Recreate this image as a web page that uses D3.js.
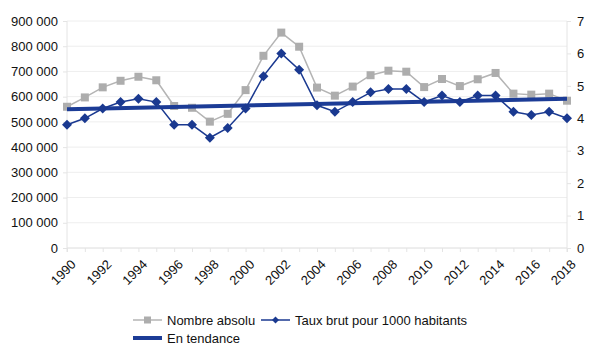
<!DOCTYPE html>
<html>
<head>
<meta charset="utf-8">
<script src="https://cdn.jsdelivr.net/npm/d3@7"></script>
<style>
  body { margin: 0; background: #fff; }
  text { font-family: "Liberation Sans", Arial, sans-serif; }
</style>
</head>
<body>
<svg id="canvas"></svg>
<script>
let svg = d3.select("#canvas");

svg.attr('width', 600)
    .attr('height', 353)

// data
let years = d3.range(1990, 2019);
let nombreAbsolu = [560000, 597000, 637000, 663000, 679000, 665000, 563000, 556000, 501000, 532000,
  626000, 762000, 854000, 798000, 636000, 604000, 640000, 685000, 703000, 699000,
  638000, 670000, 642000, 669000, 694000, 612000, 608000, 612000, 584000];
let tauxBrut = [3.8, 4.0, 4.3, 4.5, 4.6, 4.5, 3.8, 3.8, 3.4, 3.7,
  4.3, 5.3, 6.0, 5.5, 4.4, 4.2, 4.5, 4.8, 4.9, 4.9,
  4.5, 4.7, 4.5, 4.7, 4.7, 4.2, 4.1, 4.2, 4.0];
let leftTicks = d3.range(0, 900001, 100000);
let rightTicks = d3.range(0, 8);
let yearLabels = years.filter(y => y % 2 === 0);

let plotLeft = 67, plotRight = 567, plotTop = 21, plotBottom = 248;

let x = d3.scaleLinear().domain([1990, 2018]).range([plotLeft, plotRight]);
let yL = d3.scaleLinear().domain([0, 900000]).range([plotBottom, plotTop]);
let yR = d3.scaleLinear().domain([0, 7]).range([plotBottom, plotTop]);

let fmt = d => d3.format(',')(d).replace(/,/g, ' ');

// grid
svg.append('g').selectAll('line')
  .data(leftTicks)
  .join('line')
  .attr('x1', plotLeft).attr('x2', plotRight)
  .attr('y1', d => yL(d)).attr('y2', d => yL(d))
  .attr('stroke', '#eeeeee');

// borders
svg.append('line').attr('x1', plotLeft).attr('x2', plotLeft).attr('y1', plotTop).attr('y2', plotBottom + 4).attr('stroke', '#e4e4e4');
svg.append('line').attr('x1', plotRight).attr('x2', plotRight).attr('y1', plotTop).attr('y2', plotBottom + 4).attr('stroke', '#e4e4e4');
svg.append('line').attr('x1', plotLeft).attr('x2', plotRight).attr('y1', plotBottom).attr('y2', plotBottom).attr('stroke', '#e4e4e4');

// axes
let gl = svg.append('g').attr('transform', `translate(${plotLeft},0)`)
  .call(d3.axisLeft(yL).tickValues(leftTicks).tickFormat(fmt).tickSize(4).tickPadding(5));
let gr = svg.append('g').attr('transform', `translate(${plotRight},0)`)
  .call(d3.axisRight(yR).tickValues(rightTicks).tickFormat(d3.format('d')).tickSize(4).tickPadding(6));
let gx = svg.append('g').attr('transform', `translate(0,${plotBottom})`)
  .call(d3.axisBottom(x).tickValues(years).tickFormat(d => yearLabels.includes(d) ? d : '').tickSize(4));

[gl, gr, gx].forEach(g => {
  g.select('.domain').remove();
  g.selectAll('.tick line').attr('stroke', '#e4e4e4');
  g.selectAll('text').attr('font-size', 13).attr('fill', '#111');
});

gx.selectAll('text')
  .attr('text-anchor', 'end')
  .attr('dy', '0.35em')
  .attr('transform', 'translate(6,14) rotate(-45)')
  .attr('y', 0);

// trend line: least squares on taux brut
let mx = d3.mean(years), my = d3.mean(tauxBrut);
let slope = d3.sum(years, (d, i) => (d - mx) * (tauxBrut[i] - my)) / d3.sum(years, d => (d - mx) ** 2);
let trend = [1990, 2018].map(d => [d, my + slope * (d - mx)]);

let grayColor = '#adadad', blueColor = '#1a3990', trendColor = '#1c3c96';

// gray series
svg.append('path')
  .datum(nombreAbsolu)
  .attr('fill', 'none')
  .attr('stroke', '#b4b4b4')
  .attr('stroke-width', 1.5)
  .attr('d', d3.line().x((d, i) => x(years[i])).y(d => yL(d)));

svg.append('g').selectAll('rect')
  .data(nombreAbsolu)
  .join('rect')
  .attr('x', (d, i) => x(years[i]) - 4)
  .attr('y', d => yL(d) - 4)
  .attr('width', 8)
  .attr('height', 8)
  .attr('fill', grayColor);

// trend
svg.append('path')
  .datum(trend)
  .attr('fill', 'none')
  .attr('stroke', trendColor)
  .attr('stroke-width', 4)
  .attr('d', d3.line().x(d => x(d[0])).y(d => yR(d[1])));

// blue series
svg.append('path')
  .datum(tauxBrut)
  .attr('fill', 'none')
  .attr('stroke', blueColor)
  .attr('stroke-width', 1.5)
  .attr('d', d3.line().x((d, i) => x(years[i])).y(d => yR(d)));

svg.append('g').selectAll('path')
  .data(tauxBrut)
  .join('path')
  .attr('d', 'M0,-5L5,0L0,5L-5,0Z')
  .attr('transform', (d, i) => `translate(${x(years[i])},${yR(d)})`)
  .attr('fill', blueColor);

// legend
let legend = svg.append('g');
let items = [
  { label: 'Nombre absolu', x: 133, y: 320, color: '#b4b4b4', w: 1.5, marker: 'square' },
  { label: 'Taux brut pour 1000 habitants', x: 261, y: 320, color: blueColor, w: 1.5, marker: 'diamond' },
  { label: 'En tendance', x: 133, y: 338, color: trendColor, w: 4, marker: null }
];
items.forEach(it => {
  let g = legend.append('g').attr('transform', `translate(${it.x},${it.y})`);
  g.append('line').attr('x1', 0).attr('x2', 29).attr('stroke', it.color).attr('stroke-width', it.w);
  if (it.marker === 'square') {
    g.append('rect').attr('x', 11).attr('y', -3.5).attr('width', 7).attr('height', 7).attr('fill', grayColor);
  } else if (it.marker === 'diamond') {
    g.append('path').attr('d', 'M14.5,-3.5L18,0L14.5,3.5L11,0Z').attr('fill', blueColor);
  }
  g.append('text').attr('x', 34).attr('y', 0).attr('dy', '0.35em')
    .attr('font-size', 13).attr('fill', '#111').text(it.label);
});
</script>
</body>
</html>
